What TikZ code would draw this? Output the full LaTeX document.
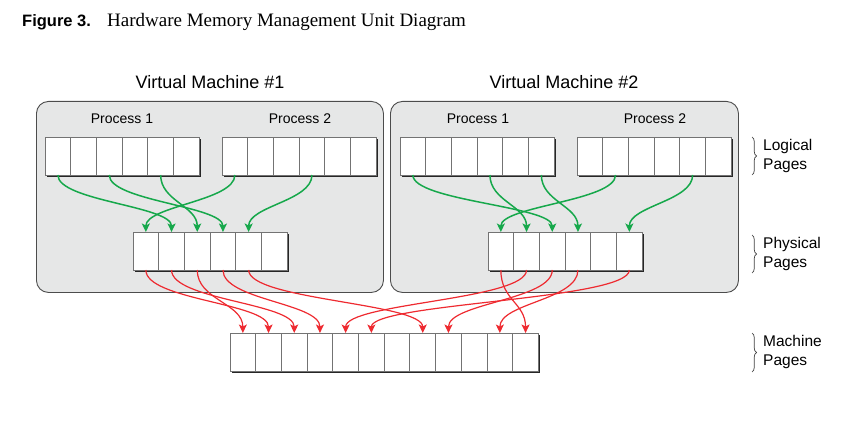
\documentclass[tikz,border=0pt]{standalone}
\usepackage{fontspec}
\setmainfont{Liberation Sans}
\newfontfamily\captionserif{Liberation Serif}
\usetikzlibrary{arrows.meta,decorations.pathreplacing}

\definecolor{vmgray}{HTML}{E6E7E7}
\definecolor{mapgreen}{HTML}{16A84B}
\definecolor{mapred}{HTML}{EE2A30}

\tikzset{
  pagecell/.style={draw=black!55, fill=white, line width=0.9pt, minimum width=25.7pt,
    minimum height=38pt, inner sep=0pt, outer sep=0pt, anchor=north west},
  vmbox/.style={draw=black!70, fill=vmgray, line width=0.9pt, rounded corners=12pt,
    inner sep=0pt, anchor=north west},
  vmlabel/.style={font=\fontsize{18}{21}\selectfont},
  proclabel/.style={font=\fontsize{14}{17}\selectfont},
  sidelabel/.style={font=\fontsize{15.5}{19.5}\selectfont, align=left, anchor=west, inner sep=0pt},
  pagebrace/.style={draw=black!75, line width=0.7pt, decorate, decoration={brace, amplitude=4.5pt}},
  sflow/.style={to path={.. controls +(0,-#1) and +(0,#1) .. (\tikztotarget) \tikztonodes}},
  greenmap/.style={draw=mapgreen, line width=1.5pt, -{Stealth[length=8.5pt,width=8pt,inset=2pt]}, sflow=26},
  redmap/.style={draw=mapred, line width=1.2pt, -{Stealth[length=8.5pt,width=8pt,inset=2pt]}, sflow=30},
}

% row of page cells: name, left x, top y, number of cells
\newcommand{\pagerow}[4]{%
  \fill[black!85] (#2+2,-#3-2) rectangle ++(#4*25.7,-38);
  \foreach \i in {1,...,#4}
    \node[pagecell] (#1-\i) at ({#2+(\i-1)*25.7},-#3) {};
}

\begin{document}
\begin{tikzpicture}[x=1pt,y=1pt]
  \useasboundingbox (0,0) rectangle (854,-422);

  % caption
  \node[anchor=base west, inner sep=0pt, font=\bfseries\fontsize{16.5}{19}\selectfont] (fignum) at (22,-27) {Figure 3.};
  \node[anchor=base west, inner sep=0pt, font=\captionserif\fontsize{19}{22}\selectfont] (figtitle) at (107,-27) {Hardware Memory Management Unit Diagram};

  % virtual machines
  \node[vmlabel] (vm1name) at (210,-82) {Virtual Machine \#1};
  \node[vmlabel] (vm2name) at (564,-82) {Virtual Machine \#2};
  \node[vmbox, minimum width=347pt, minimum height=191pt] (vm1) at (36,-101) {};
  \node[vmbox, minimum width=348pt, minimum height=191pt] (vm2) at (390,-101) {};

  \node[proclabel] (v1name1) at (122,-119) {Process 1};
  \node[proclabel] (v1name2) at (300,-119) {Process 2};
  \node[proclabel] (v2name1) at (478,-119) {Process 1};
  \node[proclabel] (v2name2) at (655,-119) {Process 2};

  % logical, physical and machine pages
  \pagerow{v1l1}{45}{137}{6}
  \pagerow{v1l2}{222}{137}{6}
  \pagerow{v2l1}{400}{137}{6}
  \pagerow{v2l2}{577}{137}{6}
  \pagerow{v1p}{133}{232}{6}
  \pagerow{v2p}{488}{232}{6}
  \pagerow{mach}{230}{333}{12}

  % logical -> physical
  \draw[greenmap] (v1l1-1.south) to (v1p-2.north);
  \draw[greenmap] (v1l1-3.south) to (v1p-4.north);
  \draw[greenmap] (v1l1-5.south) to (v1p-3.north);
  \draw[greenmap] (v1l2-1.south) to (v1p-1.north);
  \draw[greenmap] (v1l2-4.south) to (v1p-5.north);

  \draw[greenmap] (v2l1-1.south) to (v2p-3.north);
  \draw[greenmap] (v2l1-4.south) to (v2p-2.north);
  \draw[greenmap] (v2l1-6.south) to (v2p-4.north);
  \draw[greenmap] (v2l2-2.south) to (v2p-1.north);
  \draw[greenmap] (v2l2-5.south) to (v2p-6.north);

  % physical -> machine
  \draw[redmap] (v1p-1.south) to (mach-2.north);
  \draw[redmap] (v1p-2.south) to (mach-3.north);
  \draw[redmap] (v1p-3.south) to (mach-1.north);
  \draw[redmap] (v1p-4.south) to (mach-4.north);
  \draw[redmap] (v1p-5.south) to (mach-8.north);

  \draw[redmap] (v2p-1.south) to (mach-12.north);
  \draw[redmap] (v2p-2.south) to (mach-5.north);
  \draw[redmap] (v2p-3.south) to (mach-9.north);
  \draw[redmap] (v2p-4.south) to (mach-11.north);
  \draw[redmap] (v2p-6.south) to (mach-6.north);

  % side labels
  \draw[pagebrace] (752,-137) -- (752,-175);
  \draw[pagebrace] (752,-235) -- (752,-273);
  \draw[pagebrace] (752,-333) -- (752,-372);
  \node[sidelabel] (logical) at (763,-156) {Logical\\Pages};
  \node[sidelabel] (physical) at (763,-254) {Physical\\Pages};
  \node[sidelabel] (machine) at (763,-352) {Machine\\Pages};
\end{tikzpicture}
\end{document}
